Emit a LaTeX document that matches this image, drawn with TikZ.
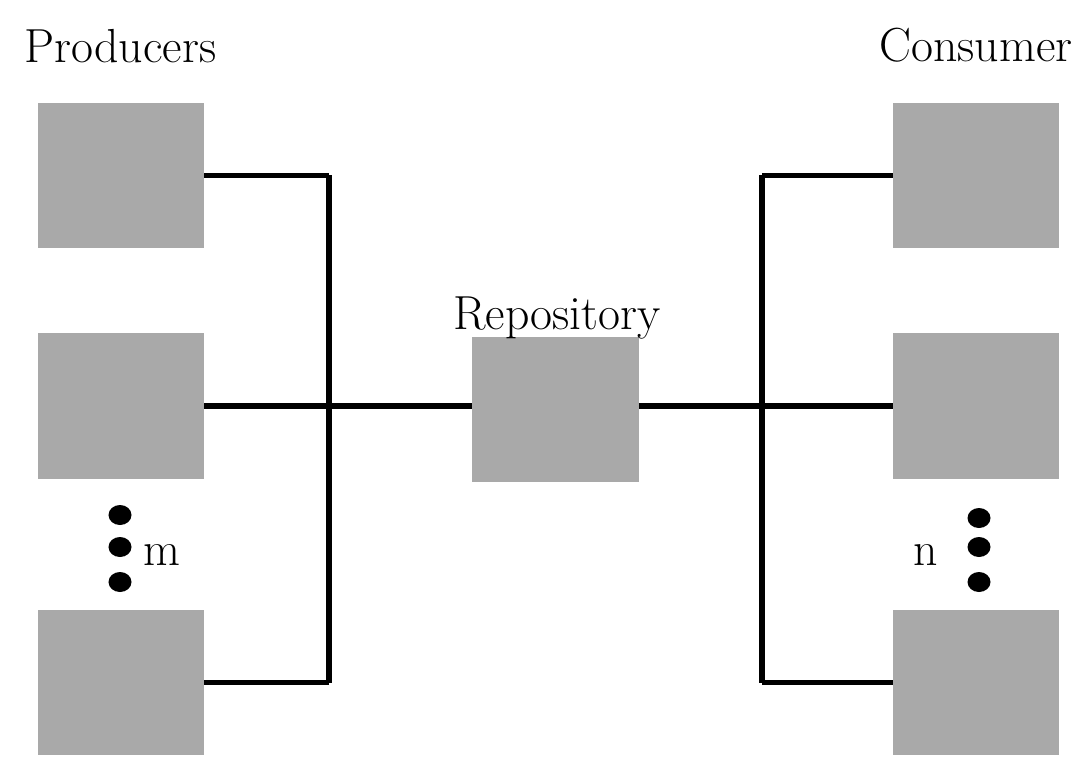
\documentclass[tikz,border=0pt]{standalone}
\usepackage{tikz}
\usetikzlibrary{shapes.geometric}
\definecolor{boxgray}{RGB}{169,169,169}

\begin{document}
\begin{tikzpicture}[x=0.025cm,y=-0.025cm,
  unit/.style={rectangle,fill=boxgray,inner sep=0pt,minimum width=4.15cm,minimum height=3.625cm},
  dot/.style={ellipse,fill=black,inner sep=0pt,minimum width=0.575cm,minimum height=0.5cm},
  lbl/.style={anchor=base west,inner sep=0pt,font=\fontsize{34}{40}\selectfont},
  wire/.style={line width=3.9pt}]
\useasboundingbox (0,0) rectangle (1082,778);

\node[unit] at (121,175.5)	(p1) {};
\node[unit] at (121,406)	(p2) {};
\node[unit] at (121,682.5)	(p3) {};
\node[unit] at (976,175.5)	(c1) {};
\node[unit] at (976,406)	(c2) {};
\node[unit] at (976,682.5)	(c3) {};
\node[unit] at (555.5,409.5)	(repo) {};

\node[lbl] at (24,62)	(prod) {Producers};
\node[lbl] at (879,61)	(cons) {Consumer};
\node[lbl] at (453,329)	(rlbl) {Repository};
\node[lbl] at (143,565)	(m) {m};
\node[lbl] at (913,565)	(n) {n};

\node[dot] at (120,515)	(d1) {};
\node[dot] at (120,547)	(d2) {};
\node[dot] at (120,582)	(d3) {};
\node[dot] at (979,518)	(e1) {};
\node[dot] at (979,547)	(e2) {};
\node[dot] at (979,582)	(e3) {};

\coordinate (lt) at (329,175);
\coordinate (lb) at (329,683);
\coordinate (rt) at (762,175);
\coordinate (rb) at (762,683);

\draw[wire] (p1.east) -- (p1.east -| lt);
\draw[wire] (p3.east) -- (p3.east -| lb);
\draw[wire] (lt) -- (lb);
\draw[wire] (p2.east) -- (p2.east -| repo.west);
\draw[wire] (c1.west) -- (c1.west -| rt);
\draw[wire] (c3.west) -- (c3.west -| rb);
\draw[wire] (rt) -- (rb);
\draw[wire] (repo.east |- c2.west) -- (c2.west);
\end{tikzpicture}
\end{document}
